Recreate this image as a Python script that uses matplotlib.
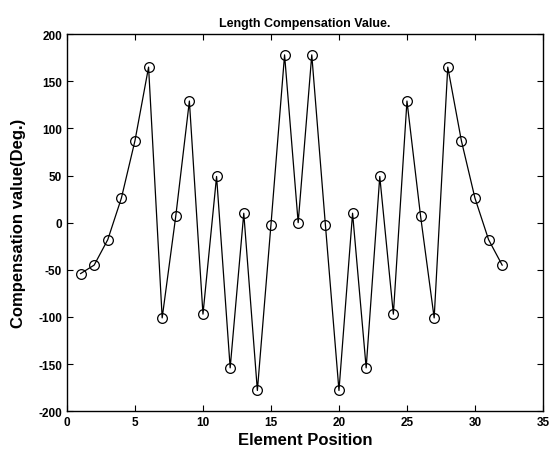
import matplotlib
matplotlib.use('Agg')
import matplotlib.pyplot as plt

# element positions and compensation values (deg)
positions = list(range(1, 33))
values = [-54, -45, -18, 26, 87, 165, -101, 7, 129, -97, 49, -154, 10, -178, -2, 178,
          0, 178, -2, -178, 10, -154, 49, -97, 129, 7, -101, 165, 87, 26, -18, -45]
xticks = [0, 5, 10, 15, 20, 25, 30, 35]
yticks = [-200, -150, -100, -50, 0, 50, 100, 150, 200]

plt.rcParams['font.family'] = ['Liberation Sans', 'DejaVu Sans']
plt.rcParams['axes.unicode_minus'] = False

fig = plt.figure(figsize=(5.49, 4.56), dpi=100)
ax = fig.add_axes([0.122, 0.096, 0.867, 0.827])
ax.plot(positions, values, color='black', linewidth=0.9, marker='o', markersize=7,
        markerfacecolor='none', markeredgecolor='black', markeredgewidth=0.9)
ax.set_xlim(0, 35)
ax.set_ylim(-200, 200)
ax.set_xticks(xticks)
ax.set_yticks(yticks)
ax.tick_params(direction='in', top=True, right=True, length=4, width=0.8, labelsize=8.5)
for lbl in ax.get_xticklabels() + ax.get_yticklabels():
    lbl.set_fontweight('bold')
for s in ax.spines.values():
    s.set_linewidth(1.0)
ax.set_title("Length Compensation Value.", fontsize=9, fontweight='bold', pad=6)
ax.set_xlabel("Element Position", fontsize=12, fontweight='bold', labelpad=3)
ax.set_ylabel("Compensation value(Deg.)", fontsize=12, fontweight='bold', labelpad=9)

fig.savefig('out.png', dpi=100)
